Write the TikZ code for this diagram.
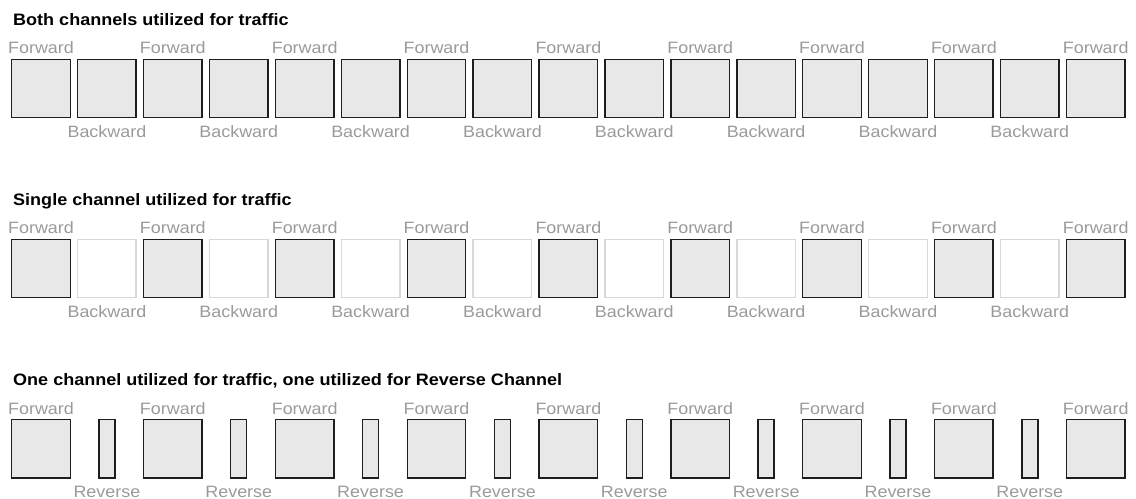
\documentclass[tikz,border=0pt]{standalone}
\usepackage{fontspec}
\setmainfont{Liberation Sans}[FakeStretch=1.09]
\definecolor{lblgray}{HTML}{9A9A9A}
\definecolor{boxfill}{HTML}{E8E8E8}
\definecolor{boxline}{HTML}{1E1E1E}
\definecolor{emptyline}{HTML}{D8D8D8}
\tikzset{
  fullbox/.style={draw=boxline, fill=boxfill, line width=1.4bp, minimum width=58.5bp, minimum height=58bp, inner sep=0pt},
  emptybox/.style={draw=emptyline, fill=white, line width=1.4bp, minimum width=58.5bp, minimum height=58bp, inner sep=0pt},
  narrowbox/.style={draw=boxline, fill=boxfill, line width=1.4bp, minimum width=16bp, minimum height=58bp, inner sep=0pt},
  lbl/.style={text=lblgray, font=\fontsize{16.5}{16}\selectfont, inner sep=0pt, anchor=base},
  ttl/.style={text=black, font=\fontsize{16.6}{16}\selectfont\bfseries, inner sep=0pt, anchor=base west},
}
\begin{document}
\begin{tikzpicture}[x=1bp,y=-1bp]
\useasboundingbox (0,0) rectangle (1136,499);
% Row 1
\node[ttl] (t1) at (13,26) {Both channels utilized for traffic};
\foreach \i in {0,...,16} {
  \node[fullbox] (a\i) at ({41+65.92*\i},88.8) {};
}
\foreach \i in {0,2,...,16} {
  \node[lbl] (af\i) at ({41+65.92*\i},54) {Forward};
}
\foreach \i in {1,3,...,15} {
  \node[lbl] (ab\i) at ({41+65.92*\i},137.7) {Backward};
}
% Row 2
\node[ttl] (t2) at (13,206) {Single channel utilized for traffic};
\foreach \i in {0,2,...,16} {
  \node[fullbox] (b\i) at ({41+65.92*\i},268.8) {};
  \node[lbl] (bf\i) at ({41+65.92*\i},234) {Forward};
}
\foreach \i in {1,3,...,15} {
  \node[emptybox] (b\i) at ({41+65.92*\i},268.8) {};
  \node[lbl] (bb\i) at ({41+65.92*\i},317.7) {Backward};
}
% Row 3
\node[ttl] (t3) at (13,386) {One channel utilized for traffic, one utilized for Reverse Channel};
\foreach \i in {0,2,...,16} {
  \node[fullbox] (c\i) at ({41+65.92*\i},448.8) {};
  \node[lbl] (cf\i) at ({41+65.92*\i},414) {Forward};
}
\foreach \i in {1,3,...,15} {
  \node[narrowbox] (c\i) at ({41+65.92*\i},448.8) {};
  \node[lbl] (cr\i) at ({41+65.92*\i},497.7) {Reverse};
}
\end{tikzpicture}
\end{document}
